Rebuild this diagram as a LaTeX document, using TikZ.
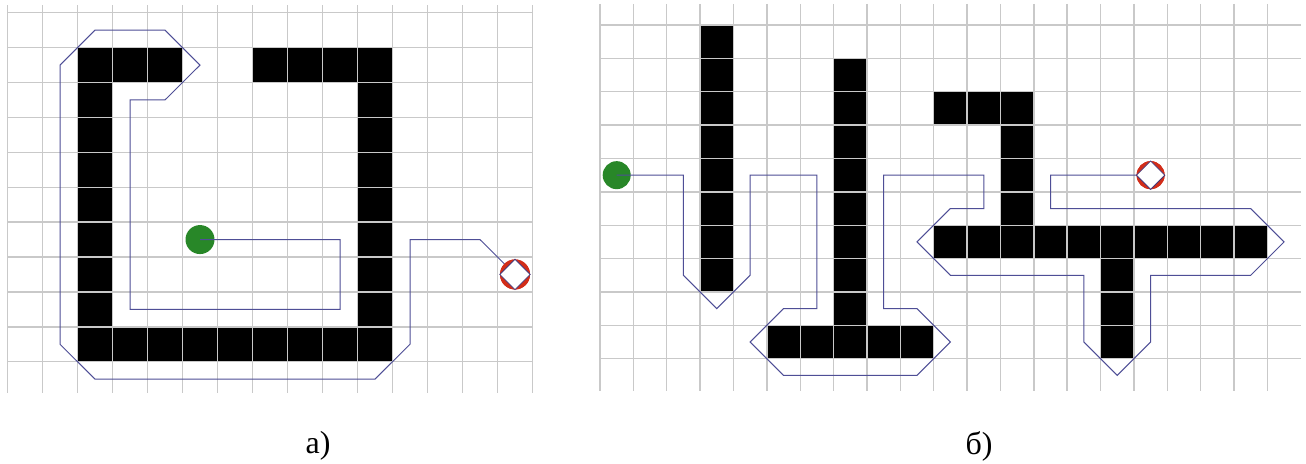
\documentclass[tikz,border=0pt]{standalone}
\usepackage{fontspec}
\setmainfont{Liberation Serif}
\definecolor{routeblue}{RGB}{78,78,150}
\definecolor{startgreen}{RGB}{40,135,40}
\definecolor{targetred}{RGB}{210,45,25}
\definecolor{diamondedge}{RGB}{70,55,120}
\tikzset{
  gridline/.style={draw=gray!42, line width=1.4pt},
  wall/.style={fill=black},
  route/.style={draw=routeblue, line width=1pt, line join=miter},
  startdot/.style={circle, fill=startgreen, inner sep=0pt, minimum size=#1},
  goal/.style={circle, fill=targetred, inner sep=0pt, minimum size=#1},
  caption/.style={font=\fontsize{32}{38}\selectfont, inner sep=0pt}
}
\begin{document}
\begin{tikzpicture}[x=1pt,y=-1pt]
\useasboundingbox[fill=white] (0,0) rectangle (1306,463);

% ---------- panel a ----------
\begin{scope}[shift={(7.5pt,-12.7pt)}, x=35pt, y=-34.9pt]
  \fill[wall] (2,1) rectangle (5,2);
  \fill[wall] (7,1) rectangle (11,2);
  \fill[wall] (2,1) rectangle (3,10);
  \fill[wall] (10,1) rectangle (11,10);
  \fill[wall] (2,9) rectangle (11,10);
  \foreach \i in {0,...,15} \draw[gridline] (\i,-0.22) -- (\i,10.9);
  \foreach \j in {0,...,10} \draw[gridline] (0,\j) -- (15,\j);
  \node[startdot=29pt] (sa) at (5.5,6.5) {};
  \node[goal=30pt] (ta) at (14.5,7.5) {};
  \draw[route] (sa.center) -- (9.5,6.5) -- (9.5,8.5) -- (3.5,8.5) -- (3.5,2.5)
    -- (4.5,2.5) -- (5.5,1.5) -- (4.5,0.5) -- (2.5,0.5) -- (1.5,1.5)
    -- (1.5,9.5) -- (2.5,10.5) -- (10.5,10.5) -- (11.5,9.5) -- (11.5,6.5)
    -- (13.5,6.5) -- (ta.center);
  \node[goal=30pt] (ta2) at (14.5,7.5) {};
  \filldraw[fill=white, draw=diamondedge, line width=0.8pt]
    (ta2.north) -- (ta2.east) -- (ta2.south) -- (ta2.west) -- cycle;
\end{scope}

% ---------- panel b ----------
\begin{scope}[shift={(600pt,-25pt)}, x=33.37pt, y=-33.37pt]
  \fill[wall] (3,0) rectangle (4,8);
  \fill[wall] (7,1) rectangle (8,10);
  \fill[wall] (5,9) rectangle (10,10);
  \fill[wall] (10,2) rectangle (13,3);
  \fill[wall] (12,2) rectangle (13,7);
  \fill[wall] (10,6) rectangle (20,7);
  \fill[wall] (15,6) rectangle (16,10);
  \foreach \i in {0,...,20} \draw[gridline] (\i,-0.63) -- (\i,10.96);
  \foreach \j in {0,...,10} \draw[gridline] (0,\j) -- (21,\j);
  \node[startdot=28pt] (sb) at (0.5,4.5) {};
  \node[goal=28pt] (tb) at (16.5,4.5) {};
  \draw[route] (sb.center) -- (2.5,4.5) -- (2.5,7.5) -- (3.5,8.5) -- (4.5,7.5)
    -- (4.5,4.5) -- (6.5,4.5) -- (6.5,8.5) -- (5.5,8.5) -- (4.5,9.5)
    -- (5.5,10.5) -- (9.5,10.5) -- (10.5,9.5) -- (9.5,8.5) -- (8.5,8.5)
    -- (8.5,4.5) -- (11.5,4.5) -- (11.5,5.5) -- (10.5,5.5) -- (9.5,6.5)
    -- (10.5,7.5) -- (14.5,7.5) -- (14.5,9.5) -- (15.5,10.5) -- (16.5,9.5)
    -- (16.5,7.5) -- (19.5,7.5) -- (20.5,6.5) -- (19.5,5.5) -- (13.5,5.5)
    -- (13.5,4.5) -- (tb.center);
  \node[goal=28pt] (tb2) at (16.5,4.5) {};
  \filldraw[fill=white, draw=diamondedge, line width=0.8pt]
    (tb2.north) -- (tb2.east) -- (tb2.south) -- (tb2.west) -- cycle;
\end{scope}

% ---------- captions ----------
\node[caption] (capa) at (318,446) {а)};
\node[caption] (capb) at (979,446) {б)};
\end{tikzpicture}
\end{document}
